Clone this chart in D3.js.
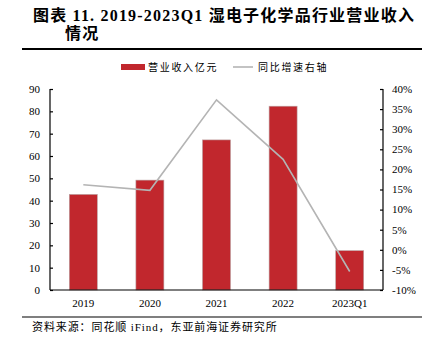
<!DOCTYPE html>
<html>
<head>
<meta charset="utf-8">
<script src="https://cdn.jsdelivr.net/npm/d3@7.9.0/dist/d3.min.js"></script>
<style>
  body { margin: 0; background: #fff; }
  svg { display: block; }
</style>
</head>
<body>
<svg id="chart" width="431" height="354"></svg>
<script>
// data
const years = ["2019", "2020", "2021", "2022", "2023Q1"];
const revenue = [42.8, 49.2, 67.2, 82.3, 17.6];     // 营业收入 亿元
const growth = [16.2, 14.8, 37.3, 22.5, -5.4];       // 同比增速 %
const leftTicks = [0, 10, 20, 30, 40, 50, 60, 70, 80, 90];
const rightTicks = [-10, -5, 0, 5, 10, 15, 20, 25, 30, 35, 40];

const svg = d3.select("#chart");
const cjk = "'Liberation Serif', 'Noto Sans CJK SC', serif";

let margin = { top: 89, right: 48, bottom: 64, left: 50 };
let width = 431 - margin.left - margin.right;
let height = 354 - margin.top - margin.bottom;

// title
let title = svg.append("text")
    .attr("x", 33)
    .attr("y", 21)
    .attr("font-family", cjk)
    .attr("font-weight", "bold")
    .attr("font-size", "16px")
    .attr("letter-spacing", "1.2px")
    .attr("fill", "#000")
    .text("图表 11. 2019-2023Q1 湿电子化学品行业营业收入");
svg.append("text")
    .attr("x", 65)
    .attr("y", 39)
    .attr("font-family", cjk)
    .attr("font-weight", "bold")
    .attr("font-size", "16px")
    .attr("letter-spacing", "1.2px")
    .attr("fill", "#000")
    .text("情况");

svg.append("line")
    .attr("x1", 22).attr("x2", 422)
    .attr("y1", 49).attr("y2", 49)
    .attr("stroke", "#000").attr("stroke-width", 2);

svg.append("line")
    .attr("x1", 22).attr("x2", 422)
    .attr("y1", 317).attr("y2", 317)
    .attr("stroke", "#000").attr("stroke-width", 1.2);

svg.append("text")
    .attr("x", 32)
    .attr("y", 331)
    .attr("font-family", cjk)
    .attr("font-size", "11px")
    .attr("letter-spacing", "0.9px")
    .attr("fill", "#000")
    .text("资料来源：同花顺 iFind，东亚前海证券研究所");

let g = svg.append("g").attr("transform", `translate(${margin.left},${margin.top})`);

let xScale = d3.scaleBand().domain(years).range([0, width]).paddingInner(0.58).paddingOuter(0.29);
let yScale = d3.scaleLinear().domain([0, 90]).range([height, 0]);
let y2Scale = d3.scaleLinear().domain([-10, 40]).range([height, 0]);

// bars
g.selectAll(".bar")
    .data(years)
    .enter().append("rect")
    .attr("class", "bar")
    .attr("x", d => xScale(d))
    .attr("width", xScale.bandwidth())
    .attr("y", (d, i) => yScale(revenue[i]))
    .attr("height", (d, i) => height - yScale(revenue[i]))
    .attr("fill", "#c1272d")
    .attr("stroke", "#b8a0a0")
    .attr("stroke-width", 0.6);

// growth line
let line = d3.line()
    .x((d, i) => xScale(years[i]) + xScale.bandwidth() / 2)
    .y(d => y2Scale(d));

g.append("path")
    .datum(growth)
    .attr("fill", "none")
    .attr("stroke", "#b4b4b4")
    .attr("stroke-width", 1.6)
    .attr("d", line);

// axes
let yAxisGroup = g.append("g")
    .call(d3.axisRight(yScale).tickValues(leftTicks).tickSize(3).tickFormat(""));
yAxisGroup.select(".domain").attr("d", `M0,0V${height}`);

g.selectAll(".ylab")
    .data(leftTicks)
    .enter().append("text")
    .attr("class", "ylab")
    .attr("x", -10)
    .attr("y", d => yScale(d))
    .attr("dy", "0.35em")
    .attr("text-anchor", "end")
    .attr("font-family", "'Liberation Serif', serif")
    .attr("font-size", "11px")
    .text(d => d);

let y2AxisGroup = g.append("g")
    .attr("transform", `translate(${width},0)`)
    .call(d3.axisLeft(y2Scale).tickValues(rightTicks).tickSize(3).tickFormat(""));
y2AxisGroup.select(".domain").attr("d", `M0,0V${height}`);

g.selectAll(".y2lab")
    .data(rightTicks)
    .enter().append("text")
    .attr("class", "y2lab")
    .attr("x", width + 9)
    .attr("y", d => y2Scale(d))
    .attr("dy", "0.35em")
    .attr("text-anchor", "start")
    .attr("font-family", "'Liberation Serif', serif")
    .attr("font-size", "11px")
    .text(d => d + "%");

let xAxisGroup = g.append("g")
    .attr("transform", `translate(0,${height})`)
    .call(d3.axisBottom(xScale).tickSize(0).tickPadding(9));
xAxisGroup.select(".domain").attr("d", `M0,0H${width}`);
xAxisGroup.selectAll("text")
    .attr("font-family", "'Liberation Serif', serif")
    .attr("font-size", "11px")
    .attr("fill", "#000");

g.selectAll(".domain, .tick line").attr("stroke", "#000").attr("stroke-width", 1.2);

// legend
let legend = svg.append("g").attr("transform", "translate(121,67)");
legend.append("rect")
    .attr("x", 0).attr("y", -3)
    .attr("width", 24).attr("height", 6)
    .attr("fill", "#c1272d");
legend.append("text")
    .attr("x", 27).attr("y", 0).attr("dy", "0.35em")
    .attr("font-family", cjk)
    .attr("font-size", "10px")
    .attr("letter-spacing", "1.7px")
    .text("营业收入亿元");
legend.append("line")
    .attr("x1", 112).attr("x2", 132)
    .attr("y1", 0).attr("y2", 0)
    .attr("stroke", "#b4b4b4").attr("stroke-width", 1.6);
legend.append("text")
    .attr("x", 137).attr("y", 0).attr("dy", "0.35em")
    .attr("font-family", cjk)
    .attr("font-size", "10px")
    .attr("letter-spacing", "1.7px")
    .text("同比增速右轴");
</script>
</body>
</html>
